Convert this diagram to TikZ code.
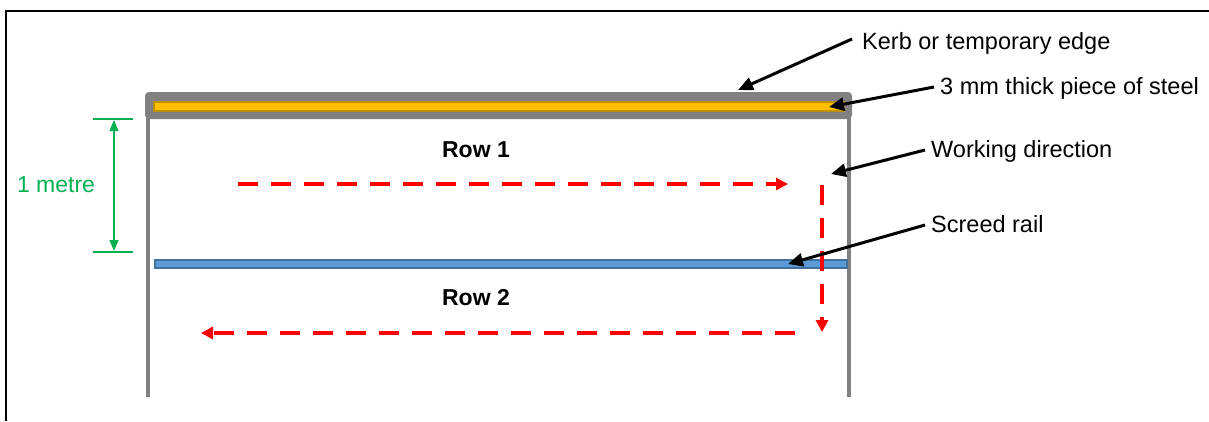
\documentclass[tikz,border=0pt]{standalone}
\usepackage{fontspec}
\setmainfont{Liberation Sans}
\usetikzlibrary{arrows.meta}
\definecolor{kerbgray}{RGB}{128,128,128}
\definecolor{steelfill}{RGB}{255,192,0}
\definecolor{steeldraw}{RGB}{191,144,0}
\definecolor{railfill}{RGB}{91,155,213}
\definecolor{raildraw}{RGB}{65,113,156}
\definecolor{dimgreen}{RGB}{0,176,80}
\tikzset{
  lbl/.style={inner sep=0pt, anchor=west, font=\fontsize{23.5}{27}\selectfont},
  rowlbl/.style={inner sep=0pt, font=\fontsize{23}{27}\selectfont\bfseries},
  callout/.style={line width=3pt, -{Triangle[length=15pt,width=13pt]}},
  workpath/.style={red, line width=3.5pt, dash pattern=on 20pt off 13pt, -{Triangle[length=12pt,width=12pt]}},
  dimline/.style={dimgreen, line width=1.5pt, {Triangle[length=11pt,width=9pt]}-{Triangle[length=11pt,width=9pt]}},
  tick/.style={dimgreen, line width=1.2pt}
}
\begin{document}
\begin{tikzpicture}[x=1pt,y=-1pt]
\useasboundingbox (0,0) rectangle (1209,421);
% frame
\draw[line width=2.5pt] (6,421) -- (6,11) -- (1209,11);
% side walls
\draw[kerbgray, line width=3.5pt] (148,110) -- (148,397);
\draw[kerbgray, line width=3.5pt] (849,110) -- (849,397);
% kerb
\fill[kerbgray, rounded corners=4pt] (145,119) -- (145,92) -- (852,92) -- (852,119) -- cycle;
% steel
\draw[steeldraw, fill=steelfill, line width=2pt] (154,101.5) rectangle (844,110.5);
% screed rail
\draw[raildraw, fill=railfill, line width=1.5pt] (155,260) rectangle (847,268);
% dimension
\draw[tick] (93,119) -- (133,119);
\draw[tick] (93,252) -- (133,252);
\draw[dimline] (114,120) -- (114,251);
\node[inner sep=0pt, text=dimgreen, font=\fontsize{23}{27}\selectfont] (metre) at (56,185) {1 metre};
% rows
\node[rowlbl] (row1) at (476,150) {Row 1};
\node[rowlbl] (row2) at (476,298) {Row 2};
% working direction paths
\coordinate (w1) at (238,184);
\coordinate (w2) at (788,184);
\coordinate (w3) at (822,185);
\coordinate (w4) at (822,332);
\coordinate (w5) at (795,333);
\coordinate (w6) at (201,333);
\draw[workpath] (w1) -- (w2);
\draw[workpath] (w3) -- (w4);
\draw[workpath] (w5) -- (w6);
% labels
\node[lbl] (kerb) at (862,43) {Kerb or temporary edge};
\node[lbl] (steel) at (940,88) {3 mm thick piece of steel};
\node[lbl] (work) at (931,151) {Working direction};
\node[lbl] (rail) at (931,224) {Screed rail};
% callout tips
\coordinate (tkerb) at (738,90);
\coordinate (tsteel) at (829,107);
\coordinate (twork) at (831,174);
\coordinate (trail) at (788,264);
\draw[callout] (kerb.west) ++(-10,-4) -- (tkerb);
\draw[callout] (steel.west) ++(-6,-1) -- (tsteel);
\draw[callout] (work.west) ++(-6,-1) -- (twork);
\draw[callout] (rail.west) ++(-6,1) -- (trail);
\end{tikzpicture}
\end{document}
